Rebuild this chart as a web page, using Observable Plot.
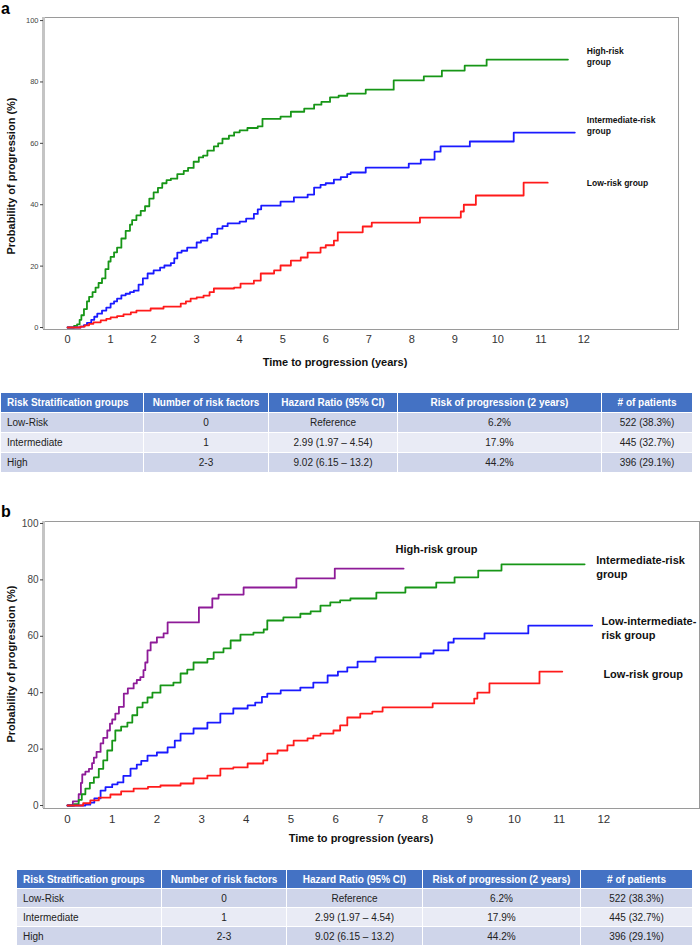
<!DOCTYPE html>
<html>
<head>
<meta charset="utf-8">
<script src="https://cdn.jsdelivr.net/npm/d3@7"></script>
<script src="https://cdn.jsdelivr.net/npm/@observablehq/plot@0.6"></script>
<style>
  html, body { margin: 0; padding: 0; background: #fff; }
  body { font-family: "Liberation Sans", Arial, sans-serif; }
  #page { position: relative; width: 700px; height: 947px; overflow: hidden; }
  .abs { position: absolute; }
  .panel-letter { font-weight: bold; font-size: 16px; line-height: 18px; color: #000; }
  .xtitle { font-weight: bold; font-size: 11px; color: #111; white-space: nowrap; transform: translate(-50%, -50%); }
  .ytitle { font-weight: bold; font-size: 11px; color: #111; white-space: nowrap; transform: translate(-50%, -50%) rotate(-90deg); }
  table.risk { border-collapse: collapse; font-size: 10px; color: #222; table-layout: fixed; }
  table.risk td, table.risk th { border: 1.5px solid #fff; padding: 0 6px; white-space: nowrap; overflow: hidden; }
  table.risk th { background: #4472C4; color: #fff; font-weight: bold; }
  table.risk tr.odd td { background: #CFD5EA; }
  table.risk tr.even td { background: #E9EBF5; }
  table.risk .c0 { text-align: left; }
  table.risk .cc { text-align: center; }
</style>
</head>
<body>
<div id="page"></div>
<script>
// ---------- Data: panel a ----------
const aGroups = ["High-risk", "Intermediate-risk", "Low-risk"];
const aColors = ["#179617", "#1a1aff", "#ff1a1a"];

const aHighT = [0, 0.15, 0.22, 0.28, 0.32, 0.38, 0.45, 0.5, 0.58, 0.65, 0.72, 0.8, 0.88, 0.95, 1.0, 1.08, 1.15, 1.25, 1.35, 1.45, 1.5, 1.6, 1.7, 1.8, 1.9, 2.0, 2.1, 2.2, 2.3, 2.4, 2.55, 2.7, 2.8, 2.93, 3.05, 3.15, 3.25, 3.4, 3.5, 3.6, 3.75, 3.87, 4.0, 4.18, 4.42, 4.53, 4.95, 5.19, 5.5, 5.73, 5.9, 6.1, 6.3, 6.5, 6.93, 7.58, 8.28, 8.7, 9.23, 9.74, 11.63];
const aHighP = [0, 0.5, 1, 2.5, 4, 6, 8.5, 10, 11.5, 13, 14.5, 16, 19, 21.5, 23, 24.5, 26, 29, 31.5, 33.5, 35, 36.5, 38, 39.5, 42, 44, 45.5, 47, 48, 48.5, 50, 51, 52, 54, 55.4, 56, 57.6, 59, 60, 61.5, 62.5, 63.6, 64.2, 65, 65.5, 68, 68.7, 70.3, 71.3, 72.6, 73.5, 75, 75.5, 76.2, 77.5, 80.5, 81.8, 83.7, 85.3, 87.3, 87.3];

const aIntT = [0, 0.3, 0.38, 0.45, 0.55, 0.62, 0.69, 0.8, 0.9, 1.0, 1.08, 1.15, 1.25, 1.35, 1.45, 1.54, 1.65, 1.75, 1.86, 2.0, 2.15, 2.25, 2.4, 2.48, 2.55, 2.65, 2.78, 3.0, 3.1, 3.25, 3.35, 3.48, 3.6, 3.72, 4.0, 4.15, 4.33, 4.42, 4.5, 4.95, 5.26, 5.58, 5.73, 5.88, 6.0, 6.19, 6.35, 6.5, 6.58, 6.93, 7.93, 8.21, 8.53, 8.67, 9.35, 10.37, 11.79];
const aIntP = [0, 0.3, 0.8, 1.5, 2.5, 3.5, 4.5, 5.5, 6.5, 7.8, 8.5, 9.4, 10.5, 11, 11.5, 12, 14, 16, 17.6, 18.6, 19.5, 20.2, 21, 22.5, 24.4, 25, 26, 27.7, 28.3, 29.3, 30.5, 32.2, 33, 33.9, 34.5, 35.5, 37, 38.5, 39.7, 41, 42.4, 43.3, 45.6, 46.5, 47, 48.2, 49, 50, 50.5, 52.1, 53.4, 54.7, 57.3, 59, 60.6, 63.5, 63.5];

const aLowT = [0, 0.3, 0.4, 0.5, 0.6, 0.77, 0.9, 1.0, 1.15, 1.3, 1.47, 1.6, 1.93, 2.23, 2.63, 2.75, 2.86, 3.0, 3.16, 3.3, 3.4, 3.87, 4.02, 4.33, 4.49, 4.8, 4.95, 5.19, 5.42, 5.58, 5.88, 6.0, 6.19, 6.28, 6.86, 7.07, 8.19, 9.14, 9.21, 9.49, 10.6, 11.16];
const aLowP = [0, 0.3, 0.7, 1.2, 1.7, 2.3, 2.8, 3.3, 3.7, 4.3, 4.9, 5.5, 6.2, 6.8, 7.8, 8.5, 9.4, 9.8, 10.4, 11.5, 12.7, 13, 14.3, 15.3, 17.6, 18.6, 20.2, 21.8, 22.8, 24.4, 26, 26.8, 28.3, 31, 32.9, 34.2, 35.8, 37.8, 40, 43, 47.2, 47.2];

const aLabels = ["High-risk\ngroup", "Intermediate-risk\ngroup", "Low-risk group"];
const aLabelT = [12.07, 12.07, 12.07];
const aLabelP = [88.4, 66.0, 47.2];

// ---------- Data: panel b ----------
const bGroups = ["High-risk", "Intermediate-risk", "Low-intermediate-risk", "Low-risk"];
const bColors = ["#8e1b98", "#179617", "#1a1aff", "#ff1a1a"];

const bHighT = [0, 0.12, 0.25, 0.3, 0.33, 0.4, 0.48, 0.55, 0.59, 0.65, 0.74, 0.8, 0.89, 0.95, 1.0, 1.07, 1.15, 1.26, 1.35, 1.48, 1.55, 1.63, 1.7, 1.74, 1.79, 1.86, 2.0, 2.15, 2.24, 2.94, 3.24, 3.38, 3.94, 5.12, 5.98, 7.52];
const bHighP = [0, 1.5, 4, 8, 11, 12, 13, 15, 17, 19, 22, 24, 26.6, 29, 30.5, 32.6, 35, 39.7, 41.5, 43.3, 44.5, 45.5, 48, 50.7, 55, 57.8, 59.6, 61, 64.9, 70.2, 73.4, 74.8, 77.3, 80.5, 84, 84];

const bIntT = [0, 0.15, 0.25, 0.32, 0.4, 0.5, 0.59, 0.7, 0.8, 0.89, 1.0, 1.07, 1.2, 1.34, 1.45, 1.56, 1.68, 1.79, 1.9, 2.08, 2.37, 2.53, 2.68, 2.82, 3.13, 3.27, 3.49, 3.65, 3.87, 4.16, 4.39, 4.47, 4.83, 5.21, 5.44, 5.66, 5.88, 6.1, 6.33, 6.91, 7.56, 8.25, 8.66, 9.19, 9.71, 11.57];
const bIntP = [0, 0.5, 2, 4, 6, 8, 10, 13, 16, 19.5, 23, 26.6, 28, 29.4, 32, 34.8, 36.5, 38.3, 40, 42.6, 43.6, 46.8, 48.2, 50.7, 52, 54.3, 55.7, 58.5, 60.6, 61.3, 62.4, 65.6, 66.7, 68, 68.8, 70.9, 72, 72.7, 73.4, 75.5, 77.3, 79, 80.9, 83.3, 85.5, 85.5];

const bLowIntT = [0, 0.4, 0.51, 0.6, 0.74, 0.85, 1.0, 1.12, 1.25, 1.41, 1.55, 1.65, 1.79, 2.0, 2.24, 2.4, 2.53, 2.82, 3.13, 3.42, 3.71, 4.03, 4.2, 4.35, 4.47, 4.77, 5.21, 5.5, 5.82, 6.05, 6.26, 6.49, 6.89, 7.9, 8.19, 8.52, 8.64, 9.33, 10.31, 11.74];
const bLowIntP = [0, 0.3, 1, 2.5, 5.3, 6.5, 7.5, 8.2, 10.5, 13.1, 14.5, 15.8, 17.7, 18.8, 20.6, 23, 25.5, 27.3, 29.4, 32.6, 34.4, 35.5, 36.5, 38.5, 39.7, 40.8, 41.8, 43.6, 46.1, 47.5, 49, 51, 52.5, 53.9, 55, 57.8, 59.2, 61, 63.8, 63.8];

const bLowT = [0, 0.35, 0.51, 0.7, 0.96, 1.2, 1.48, 1.8, 2.08, 2.53, 2.82, 3.13, 3.42, 3.71, 4.03, 4.38, 4.47, 4.7, 4.92, 5.06, 5.37, 5.5, 5.66, 5.95, 6.1, 6.26, 6.55, 6.82, 7.05, 8.17, 9.1, 9.17, 9.44, 10.56, 11.07];
const bLowP = [0, 0.8, 1.8, 2.8, 3.9, 5, 6, 6.6, 7.1, 7.8, 9.6, 10.6, 13.1, 13.5, 14.9, 16, 18.4, 19.5, 21.3, 23, 23.8, 24.8, 25.5, 26.6, 28.4, 31.2, 32.6, 33.3, 34.8, 36.2, 37.9, 40, 43.3, 47.5, 47.5];

const bLabels = ["High-risk group", "Intermediate-risk\ngroup", "Low-intermediate-\nrisk group", "Low-risk group"];
const bLabelT = [7.34, 11.83, 11.95, 11.99];
const bLabelP = [91.1, 84.8, 63.1, 46.8];

// ---------- Axes ----------
const xTicks = [0, 1, 2, 3, 4, 5, 6, 7, 8, 9, 10, 11, 12];
const yTicks = [0, 20, 40, 60, 80, 100];
const xTitle = "Time to progression (years)";
const yTitle = "Probability of progression (%)";

// ---------- Table ----------
const tableHeaders = ["Risk Stratification groups", "Number of risk factors", "Hazard Ratio (95% CI)", "Risk of progression (2 years)", "# of patients"];
const tableGroups = ["Low-Risk", "Intermediate", "High"];
const tableFactors = ["0", "1", "2-3"];
const tableHR = ["Reference", "2.99 (1.97 \u2013 4.54)", "9.02 (6.15 \u2013 13.2)"];
const tableRisk = ["6.2%", "17.9%", "44.2%"];
const tablePatients = ["522 (38.3%)", "445 (32.7%)", "396 (29.1%)"];

// ---------- Build ----------
const page = document.getElementById("page");
const FONT = '"Liberation Sans", Arial, sans-serif';

function rows(groups, series) {
  const out = [];
  series.forEach(([T, P], i) => T.forEach((t, j) => out.push({g: groups[i], t, p: P[j]})));
  return out;
}

function place(el, left, top) {
  el.style.position = "absolute";
  el.style.left = left + "px";
  el.style.top = top + "px";
  page.appendChild(el);
  return el;
}

function addDiv(cls, text, left, top) {
  const d = document.createElement("div");
  d.className = "abs " + cls;
  d.textContent = text;
  d.style.left = left + "px";
  d.style.top = top + "px";
  page.appendChild(d);
}

function makePanel(cfg) {
  const data = rows(cfg.groups, cfg.series);
  const labels = cfg.labels.map((s, i) => ({s, t: cfg.labelT[i], p: cfg.labelP[i]}));
  return Plot.plot({
    width: 700,
    height: cfg.height,
    marginLeft: 43,
    marginRight: cfg.marginRight,
    marginTop: cfg.marginTop,
    marginBottom: cfg.marginBottom,
    style: {fontFamily: FONT, background: "transparent", overflow: "visible"},
    x: {domain: cfg.xDomain},
    y: {domain: cfg.yDomain},
    color: {domain: cfg.groups, range: cfg.colors},
    marks: [
      Plot.frame({stroke: "#9a9a9a", strokeWidth: 1}),
      Plot.ruleX([cfg.xDomain[0]], {stroke: "#c4c4c4", strokeWidth: 3}),
      Plot.axisX({ticks: xTicks, tickSize: 0, tickPadding: cfg.xPad, fontSize: cfg.xFont, color: "#333", label: null, tickFormat: d => String(d)}),
      Plot.axisY({ticks: yTicks, tickSize: 3, tickPadding: 2, fontSize: cfg.yFont, color: "#444", label: null, tickFormat: d => String(d)}),
      Plot.line(data, {x: "t", y: "p", z: "g", stroke: "g", curve: "step-after", strokeWidth: 1.8}),
      Plot.text(labels, {x: "t", y: "p", text: "s", textAnchor: "start", lineAnchor: "middle", fontWeight: "bold", fontSize: cfg.labelFont, lineHeight: cfg.lineHeight, fill: "#111"})
    ]
  });
}

function makeTable(left, top, widths, rowH) {
  const t = document.createElement("table");
  t.className = "risk";
  t.style.width = widths.reduce((a, b) => a + b, 0) + "px";
  const cg = document.createElement("colgroup");
  widths.forEach(w => { const c = document.createElement("col"); c.style.width = w + "px"; cg.appendChild(c); });
  t.appendChild(cg);
  const hr = document.createElement("tr");
  hr.style.height = rowH + "px";
  tableHeaders.forEach((h, i) => {
    const th = document.createElement("th");
    th.className = i === 0 ? "c0" : "cc";
    th.textContent = h;
    hr.appendChild(th);
  });
  t.appendChild(hr);
  tableGroups.forEach((g, r) => {
    const tr = document.createElement("tr");
    tr.className = r % 2 === 0 ? "odd" : "even";
    tr.style.height = rowH + "px";
    [g, tableFactors[r], tableHR[r], tableRisk[r], tablePatients[r]].forEach((v, i) => {
      const td = document.createElement("td");
      td.className = i === 0 ? "c0" : "cc";
      td.textContent = v;
      tr.appendChild(td);
    });
    t.appendChild(tr);
  });
  place(t, left, top);
}

// Panel a
const chartA = makePanel({
  groups: aGroups, colors: aColors,
  series: [[aHighT, aHighP], [aIntT, aIntP], [aLowT, aLowP]],
  labels: aLabels, labelT: aLabelT, labelP: aLabelP,
  height: 375, marginTop: 17, marginBottom: 46, marginRight: 22,
  xDomain: [-0.56, 14.2], yDomain: [-0.65, 101],
  xPad: 6, xFont: 11, yFont: 7.5, labelFont: 8.5, lineHeight: 1.3
});
place(chartA, 0, 0);
addDiv("panel-letter", "a", 1, 0);
addDiv("xtitle", xTitle, 335, 362);
addDiv("ytitle", yTitle, 11, 176);
makeTable(0, 392, [143, 125, 129, 204, 91], 20);

// Panel b
const chartB = makePanel({
  groups: bGroups, colors: bColors,
  series: [[bHighT, bHighP], [bIntT, bIntP], [bLowIntT, bLowIntP], [bLowT, bLowP]],
  labels: bLabels, labelT: bLabelT, labelP: bLabelP,
  height: 345, marginTop: 21, marginBottom: 37, marginRight: 1,
  xDomain: [-0.537, 14.14], yDomain: [-1.06, 100.7],
  xPad: 6, xFont: 11.5, yFont: 10, labelFont: 11, lineHeight: 1.25
});
place(chartB, 0, 500);
addDiv("panel-letter", "b", 1, 503);
addDiv("xtitle", xTitle, 361, 838);
addDiv("ytitle", yTitle, 11, 664);
makeTable(16, 869, [145, 125, 136, 158, 112], 19);
</script>
</body>
</html>
